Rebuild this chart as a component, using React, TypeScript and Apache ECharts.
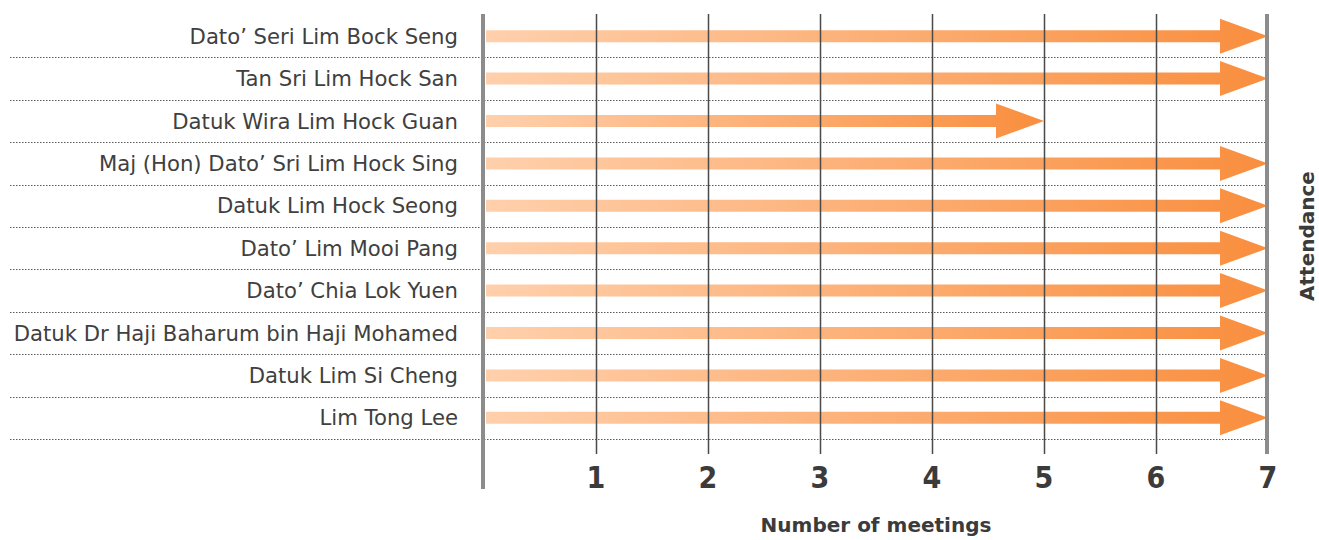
import React, { useEffect, useRef } from "react";
import * as echarts from "echarts";

const directors = [
  "Dato’ Seri Lim Bock Seng",
  "Tan Sri Lim Hock San",
  "Datuk Wira Lim Hock Guan",
  "Maj (Hon) Dato’ Sri Lim Hock Sing",
  "Datuk Lim Hock Seong",
  "Dato’ Lim Mooi Pang",
  "Dato’ Chia Lok Yuen",
  "Datuk Dr Haji Baharum bin Haji Mohamed",
  "Datuk Lim Si Cheng",
  "Lim Tong Lee",
];
const meetings = [7, 7, 5, 7, 7, 7, 7, 7, 7, 7];
const gridTicks = [1, 2, 3, 4, 5, 6];
const xMin = 0;
const xMax = 7;

export default function App() {
  const ref = useRef<HTMLDivElement>(null);
  useEffect(() => {
    if (!ref.current) return;
    const chart = echarts.init(ref.current, undefined, { renderer: "svg", width: 1319, height: 540 });
    const arrowData = meetings.map((v, i) => [v, i]);
    const rowData = directors.map((_, i) => [xMin, i]);
    chart.setOption({
      animation: false,
      grid: { left: 484, width: 784, top: 15, height: 428, containLabel: false },
      xAxis: {
        type: "value",
        min: xMin,
        max: xMax,
        interval: 1,
        axisLine: { show: false },
        axisTick: { show: false },
        splitLine: { show: false },
        axisLabel: {
          formatter: (v: number) => (v === 0 ? "" : String(v)),
          margin: 23,
          fontFamily: "'DejaVu Sans Condensed', 'Liberation Sans Narrow', 'Roboto Condensed', Roboto, sans-serif",
          fontWeight: "bold",
          fontSize: 30,
          color: "#3b3b3b",
        },
        name: "Number of meetings",
        nameLocation: "middle",
        nameGap: 76,
        nameTextStyle: {
          fontFamily: "DejaVu Sans",
          fontWeight: "bold",
          fontSize: 20,
          color: "#3b3b3b",
        },
      },
      yAxis: {
        type: "category",
        data: directors,
        inverse: true,
        axisLine: { show: false },
        axisTick: { show: false },
        splitLine: { show: false },
        axisLabel: {
          margin: 26,
          fontFamily: "DejaVu Sans",
          fontSize: 21.2,
          color: "#404040",
        },
      },
      graphic: [
        {
          type: "text",
          x: 1307,
          y: 236,
          rotation: Math.PI / 2,
          style: {
            text: "Attendance",
            fontFamily: "DejaVu Sans",
            fontWeight: "bold",
            fontSize: 20,
            fill: "#3b3b3b",
            align: "center",
            verticalAlign: "middle",
          },
        },
      ],
      series: [
        {
          type: "custom",
          name: "rows",
          clip: false,
          silent: true,
          z: 1,
          data: rowData,
          renderItem: (params: any, api: any) => {
            const idx = api.value(1);
            const c = api.coord([xMin, idx]);
            const band = api.size([0, 1])[1];
            const y = Math.round(c[1] + band / 2) + 0.5;
            const xr = api.coord([xMax, idx])[0];
            return {
              type: "line",
              shape: { x1: c[0] - 474, y1: y, x2: xr - 2, y2: y },
              style: { stroke: "#5a5a5a", lineWidth: 1, lineDash: [1.5, 1.5] },
            };
          },
        },
        {
          type: "custom",
          name: "Attendance",
          clip: false,
          z: 2,
          data: arrowData,
          renderItem: (params: any, api: any) => {
            const v = api.value(0);
            const idx = api.value(1);
            const s = api.coord([xMin, idx]);
            const e = api.coord([v, idx]);
            const x0 = s[0] + 2;
            const x1 = e[0];
            const y = s[1];
            const shaftH = 6;
            const headH = 17.5;
            const headL = 48;
            const xh = x1 - headL;
            return {
              type: "polygon",
              shape: {
                points: [
                  [x0, y - shaftH],
                  [xh, y - shaftH],
                  [xh, y - headH],
                  [x1, y],
                  [xh, y + headH],
                  [xh, y + shaftH],
                  [x0, y + shaftH],
                ],
              },
              style: {
                fill: new echarts.graphic.LinearGradient(0, 0, 1, 0, [
                  { offset: 0, color: "#FFD0AC" },
                  { offset: 1, color: "#F98E3E" },
                ]),
              },
            };
          },
        },
        {
          type: "custom",
          name: "grid",
          clip: false,
          silent: true,
          z: 3,
          data: gridTicks.map((t) => [t, 0]),
          renderItem: (params: any, api: any) => {
            const t = api.value(0);
            const c = api.coord([t, 0]);
            const band = api.size([0, 1])[1];
            const top = c[1] - band / 2 - 1;
            const bottom = api.coord([t, directors.length - 1])[1] + band / 2 + 15;
            const x = Math.round(c[0]) + 0.5;
            return {
              type: "line",
              shape: { x1: x, y1: top, x2: x, y2: bottom },
              style: { stroke: "#4a4a4a", lineWidth: 1.5 },
            };
          },
        },
        {
          type: "custom",
          name: "frame",
          clip: false,
          silent: true,
          z: 4,
          data: [
            [xMin, 0, 50],
            [xMax, 0, 15],
          ],
          renderItem: (params: any, api: any) => {
            const t = api.value(0);
            const ext = api.value(2);
            const c = api.coord([t, 0]);
            const band = api.size([0, 1])[1];
            const top = c[1] - band / 2 - 1;
            const bottom = api.coord([t, directors.length - 1])[1] + band / 2 + ext;
            return {
              type: "line",
              shape: { x1: c[0] - 1, y1: top, x2: c[0] - 1, y2: bottom },
              style: { stroke: "#8c8c8c", lineWidth: 4 },
            };
          },
        },
      ],
    });
    return () => chart.dispose();
  }, []);
  return (
    <div
      ref={ref}
      style={{ position: "fixed", left: 0, top: 0, width: 1319, height: 540, background: "#fff" }}
    />
  );
}
